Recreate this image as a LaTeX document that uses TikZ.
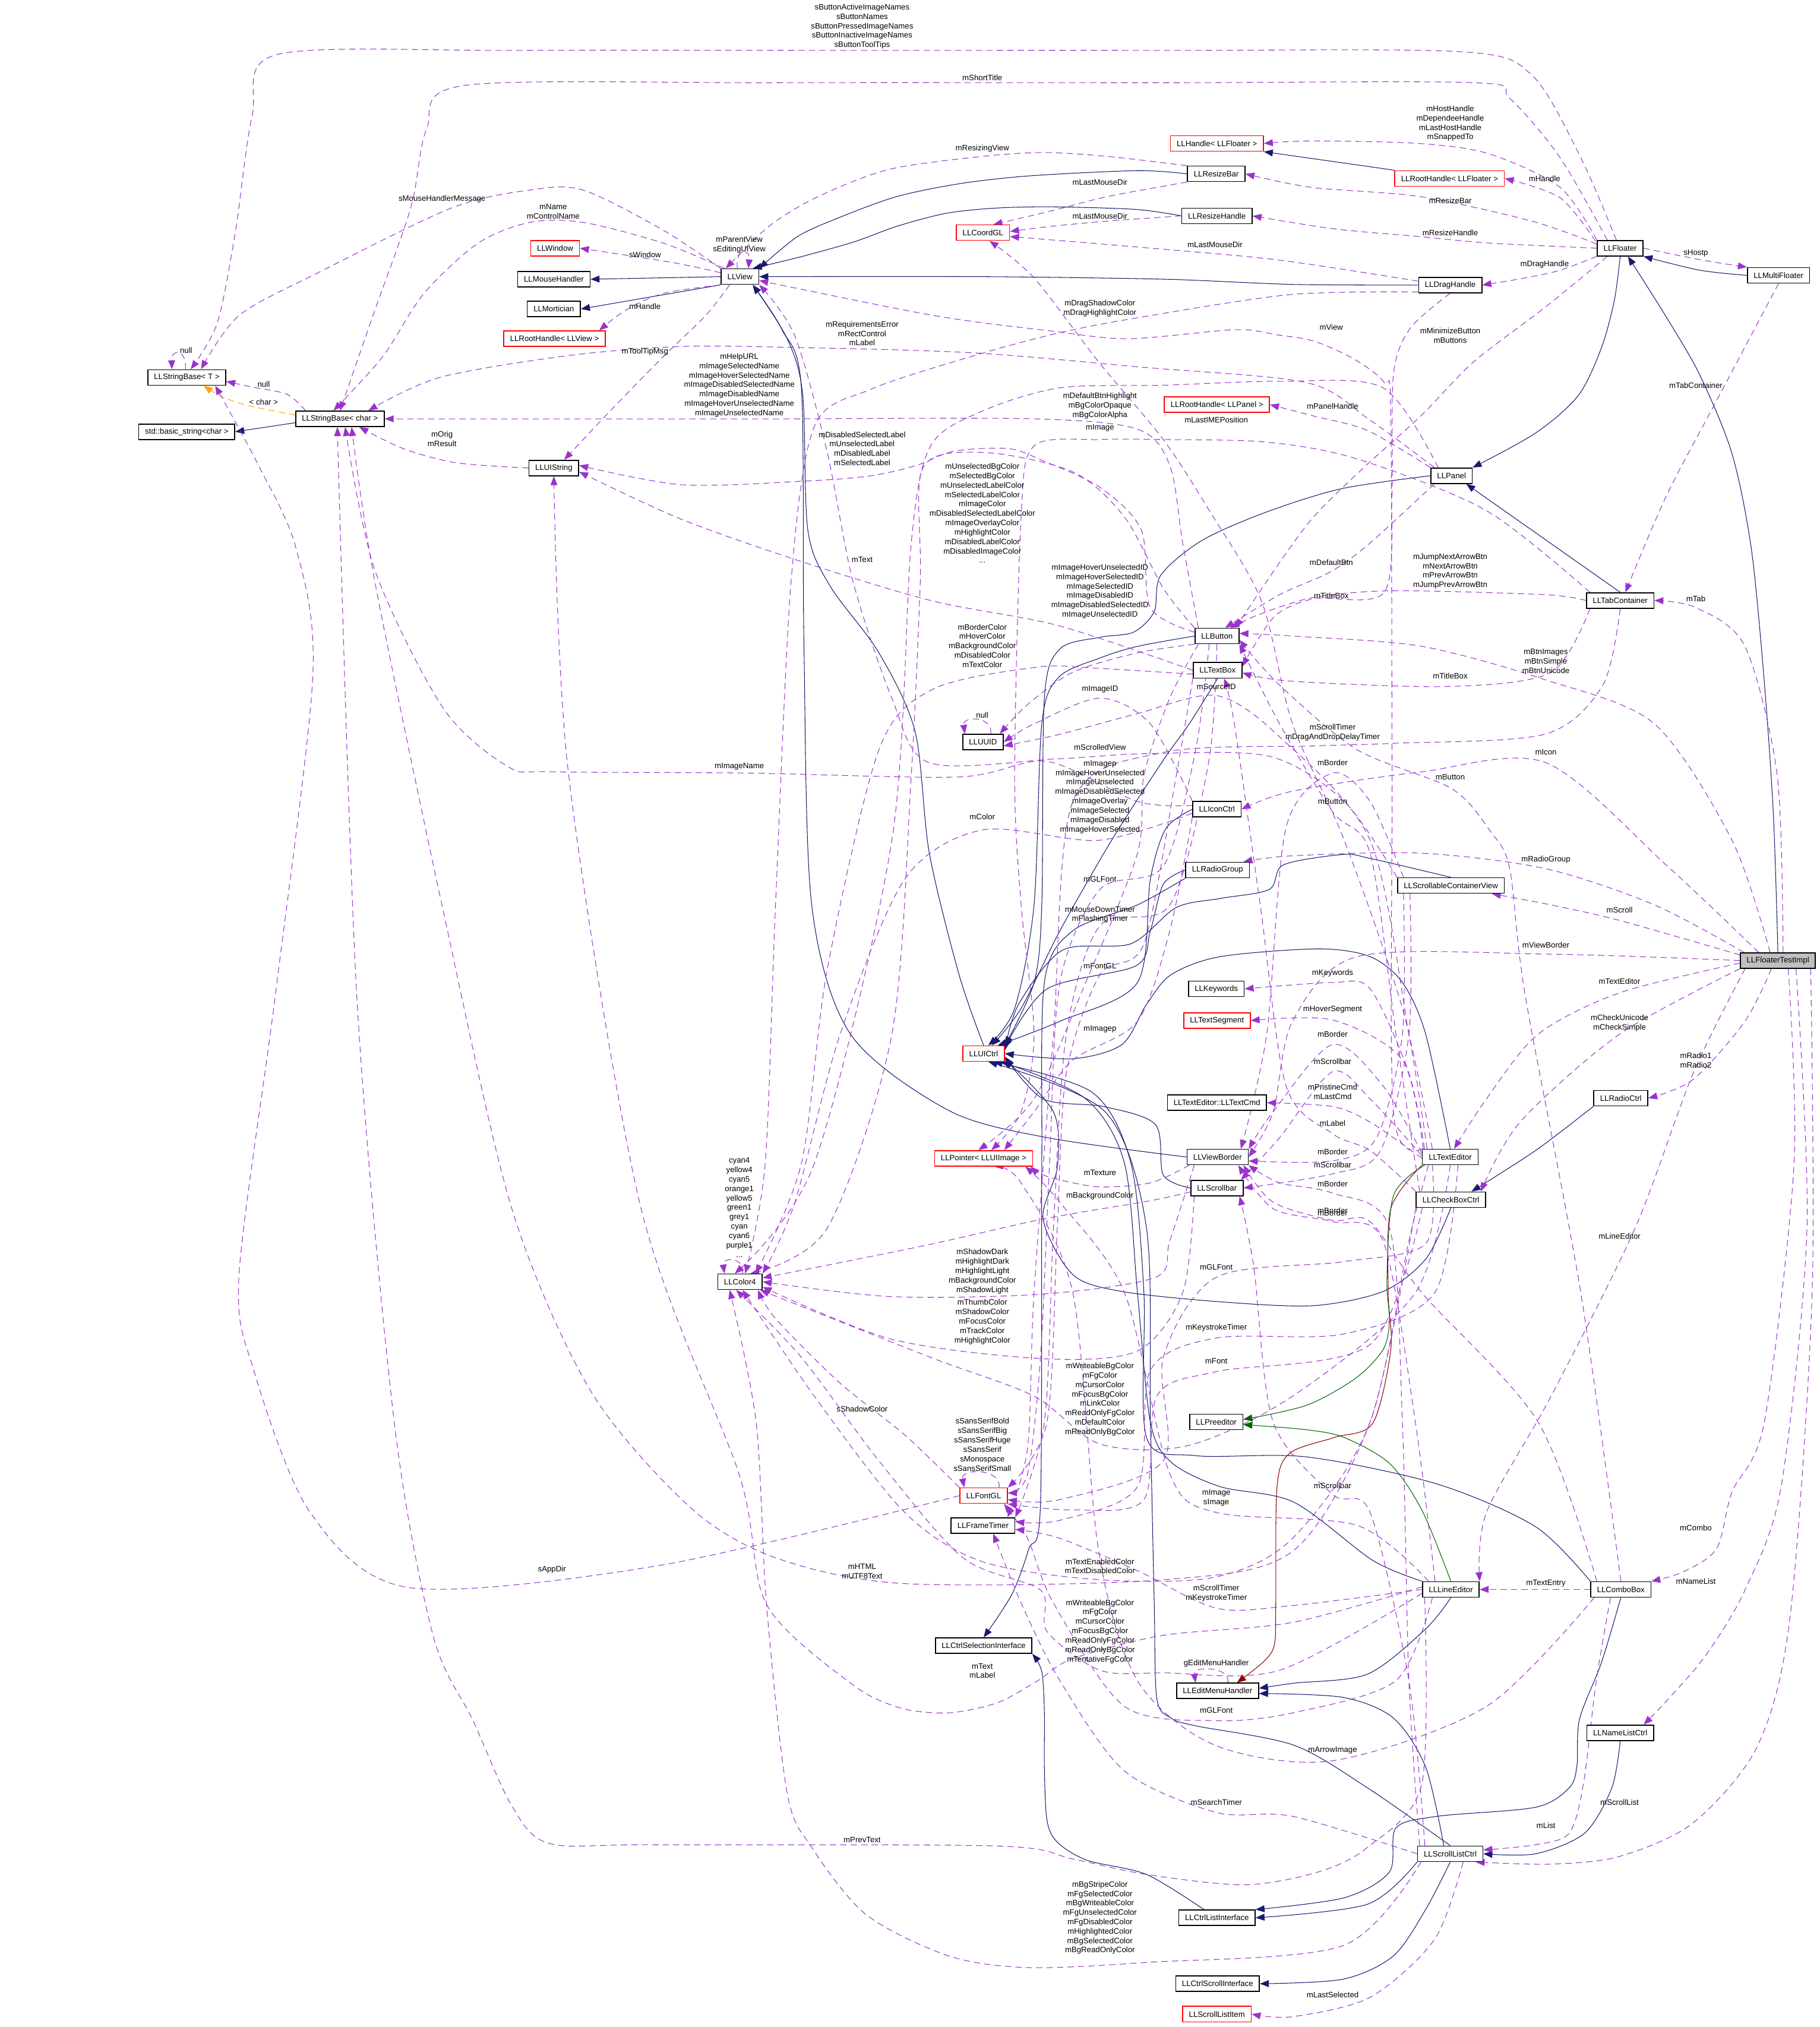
\documentclass[tikz,border=0pt]{standalone}
\usepackage{fontspec}
\setmainfont{Liberation Sans}
\usetikzlibrary{arrows.meta,calc}
\definecolor{navyblue}{HTML}{191970}
\definecolor{orchid}{HTML}{9A32CD}
\definecolor{tplorange}{HTML}{FFA500}
\definecolor{protgreen}{HTML}{006400}
\definecolor{privred}{HTML}{8B0000}
\definecolor{rootgray}{HTML}{BFBFBF}
\pgfdeclarelayer{fond}
\pgfsetlayers{fond,main}
\begin{document}
\begin{tikzpicture}[x=0.02175cm, y=-0.02175cm,
    font=\fontsize{3.76}{4.5}\selectfont,
    classe/.style={draw=black, fill=white, line width=0.45pt, inner xsep=3pt, inner ysep=0.5pt, minimum height=0.26cm},
    classerouge/.style={classe, draw=red},
    racine/.style={classe, fill=rootgray},
    etiq/.style={align=center, inner sep=0pt},
    herit/.style={color=navyblue, line width=0.3pt, -{Triangle[length=4.3pt,width=3.3pt]}},
    heritprot/.style={herit, color=protgreen},
    heritpriv/.style={herit, color=privred},
    usage/.style={color=orchid, line width=0.3pt, dash pattern=on 3pt off 2pt, -{Triangle[length=4.3pt,width=3.3pt]}},
    modele/.style={usage, color=tplorange}]
    \useasboundingbox (0,0) rectangle (1408,1568);
    % classes
    \node[classe] (view) at (572.5,214) {LLView};
    \node[classerouge] (window) at (429.5,192) {LLWindow};
    \node[classe] (mousehandler) at (428.5,216) {LLMouseHandler};
    \node[classe] (mortician) at (428.5,239) {LLMortician};
    \node[classerouge] (rootview) at (429,262) {LLRootHandle< LLView >};
    \node[classe] (strbaseT) at (144.5,292) {LLStringBase< T >};
    \node[classe] (strbasechar) at (263,324) {LLStringBase< char >};
    \node[classe] (basicstring) at (144.5,334) {std::basic\_string<char >};
    \node[classe] (uistring) at (428.5,362) {LLUIString};
    \node[classe] (resizebar) at (941,134.5) {LLResizeBar};
    \node[classerouge] (handlefloater) at (941.5,111) {LLHandle< LLFloater >};
    \node[classerouge] (rootfloater) at (1121.5,138) {LLRootHandle< LLFloater >};
    \node[classerouge] (coordgl) at (760.5,180) {LLCoordGL};
    \node[classe] (resizehandle) at (941.5,167) {LLResizeHandle};
    \node[classe] (floater) at (1253.5,192) {LLFloater};
    \node[classe] (multifloater) at (1376,213) {LLMultiFloater};
    \node[classe] (draghandle) at (1122,220.5) {LLDragHandle};
    \node[classerouge] (rootpanel) at (941.5,313) {LLRootHandle< LLPanel >};
    \node[classe] (panel) at (1123,368) {LLPanel};
    \node[classe] (tabcont) at (1253.5,464.5) {LLTabContainer};
    \node[classe] (button) at (941.5,492) {LLButton};
    \node[classe] (textbox) at (942,518.5) {LLTextBox};
    \node[classe] (uuid) at (760.5,574) {LLUUID};
    \node[classe] (iconctrl) at (941.5,626) {LLIconCtrl};
    \node[classe] (radiogroup) at (942,673) {LLRadioGroup};
    \node[classe] (scrollcont) at (1122.5,685) {LLScrollableContainerView};
    \node[racine] (floaterimpl) at (1375.5,743) {LLFloaterTestImpl};
    \node[classe] (keywords) at (941,765) {LLKeywords};
    \node[classerouge] (textseg) at (941.5,789.5) {LLTextSegment};
    \node[classerouge] (uictrl) at (761,815) {LLUICtrl};
    \node[classe] (textcmd) at (941.5,853) {LLTextEditor::LLTextCmd};
    \node[classe] (radioctrl) at (1254,849.5) {LLRadioCtrl};
    \node[classe] (texteditor) at (1122,895) {LLTextEditor};
    \node[classerouge] (uiimage) at (761,896) {LLPointer< LLUIImage >};
    \node[classe] (viewborder) at (942,895) {LLViewBorder};
    \node[classe] (scrollbar) at (941.5,919) {LLScrollbar};
    \node[classe] (checkbox) at (1122.5,928) {LLCheckBoxCtrl};
    \node[classe] (color) at (572.5,991.5) {LLColor4};
    \node[classe] (preeditor) at (941,1100) {LLPreeditor};
    \node[classerouge] (fontgl) at (761,1157) {LLFontGL};
    \node[classe] (frametimer) at (760.5,1180) {LLFrameTimer};
    \node[classe] (lineeditor) at (1122.5,1229.5) {LLLineEditor};
    \node[classe] (combobox) at (1254,1229.5) {LLComboBox};
    \node[classe] (selinterface) at (761,1273) {LLCtrlSelectionInterface};
    \node[classe] (editmenu) at (942,1308) {LLEditMenuHandler};
    \node[classe] (namelist) at (1253.5,1340.5) {LLNameListCtrl};
    \node[classe] (scrolllist) at (1122,1434) {LLScrollListCtrl};
    \node[classe] (listinterface) at (941.5,1483.5) {LLCtrlListInterface};
    \node[classe] (scrollinterface) at (942,1534.5) {LLCtrlScrollInterface};
    \node[classerouge] (scrollitem) at (941.5,1558) {LLScrollListItem};
    % etiquettes
    \node[etiq] (lSBtn) at (667,20.5) {sButtonActiveImageNames\\sButtonNames\\sButtonPressedImageNames\\sButtonInactiveImageNames\\sButtonToolTips};
    \node[etiq] (lShort) at (760,60) {mShortTitle};
    \node[etiq] (lHost) at (1122,95.5) {mHostHandle\\mDependeeHandle\\mLastHostHandle\\mSnappedTo};
    \node[etiq] (lResizing) at (760,115) {mResizingView};
    \node[etiq] (lHandleF) at (1195,138) {mHandle};
    \node[etiq] (lLMD1) at (851,141) {mLastMouseDir};
    \node[etiq] (lResizeBar) at (1122,155) {mResizeBar};
    \node[etiq] (lLMD2) at (851,167) {mLastMouseDir};
    \node[etiq] (lResizeH) at (1122,180) {mResizeHandle};
    \node[etiq] (lLMD3) at (940,189) {mLastMouseDir};
    \node[etiq] (lSHost) at (1312,196) {sHostp};
    \node[etiq] (lParent) at (572,189.5) {mParentView\\sEditingUIView};
    \node[etiq] (lSMouse) at (342,154) {sMouseHandlerMessage};
    \node[etiq] (lName) at (428,163.5) {mName\\mControlName};
    \node[etiq] (lSWindow) at (499,197) {sWindow};
    \node[etiq] (lDragH) at (1195,204.5) {mDragHandle};
    \node[etiq] (lHandleV) at (499,237) {mHandle};
    \node[etiq] (lDragCol) at (851,238.5) {mDragShadowColor\\mDragHighlightColor};
    \node[etiq] (lView) at (1030,253) {mView};
    \node[etiq] (lMinBtn) at (1122,259.5) {mMinimizeButton\\mButtons};
    \node[etiq] (lNull1) at (144,271) {null};
    \node[etiq] (lToolTip) at (499,272) {mToolTipMsg};
    \node[etiq] (lReqErr) at (667,258) {mRequirementsError\\mRectControl\\mLabel};
    \node[etiq] (lHelp) at (572,298) {mHelpURL\\mImageSelectedName\\mImageHoverSelectedName\\mImageDisabledSelectedName\\mImageDisabledName\\mImageHoverUnselectedName\\mImageUnselectedName};
    \node[etiq] (lNull2) at (204,297) {null};
    \node[etiq] (lChar) at (204,311) {< char >};
    \node[etiq] (lTabCont) at (1312,298) {mTabContainer};
    \node[etiq] (lDefBtnHl) at (851,314) {mDefaultBtnHighlight\\mBgColorOpaque\\mBgColorAlpha};
    \node[etiq] (lPanelH) at (1031,314) {mPanelHandle};
    \node[etiq] (lLastIME) at (941,325) {mLastIMEPosition};
    \node[etiq] (lImage) at (851,331) {mImage};
    \node[etiq] (lOrig) at (342,339.5) {mOrig\\mResult};
    \node[etiq] (lDisLbl) at (667,347) {mDisabledSelectedLabel\\mUnselectedLabel\\mDisabledLabel\\mSelectedLabel};
    \node[etiq] (lUnselBg) at (760,397) {mUnselectedBgColor\\mSelectedBgColor\\mUnselectedLabelColor\\mSelectedLabelColor\\mImageColor\\mDisabledSelectedLabelColor\\mImageOverlayColor\\mHighlightColor\\mDisabledLabelColor\\mDisabledImageColor\\...};
    \node[etiq] (lText) at (667,433) {mText};
    \node[etiq] (lJump) at (1122,442) {mJumpNextArrowBtn\\mNextArrowBtn\\mPrevArrowBtn\\mJumpPrevArrowBtn};
    \node[etiq] (lDefBtn) at (1030,435) {mDefaultBtn};
    \node[etiq] (lTitle1) at (1030,461) {mTitleBox};
    \node[etiq] (lTab) at (1312,463) {mTab};
    \node[etiq] (lImgIDs) at (851,457.5) {mImageHoverUnselectedID\\mImageHoverSelectedID\\mImageSelectedID\\mImageDisabledID\\mImageDisabledSelectedID\\mImageUnselectedID};
    \node[etiq] (lBorderCol) at (760,499.5) {mBorderColor\\mHoverColor\\mBackgroundColor\\mDisabledColor\\mTextColor};
    \node[etiq] (lBtnImg) at (1196,511.5) {mBtnImages\\mBtnSimple\\mBtnUnicode};
    \node[etiq] (lTitle2) at (1122,523) {mTitleBox};
    \node[etiq] (lSrcID) at (941,531) {mSourceID};
    \node[etiq] (lImgID) at (851,533) {mImageID};
    \node[etiq] (lNull3) at (760,553) {null};
    \node[etiq] (lScrollT) at (1031,566.5) {mScrollTimer\\mDragAndDropDelayTimer};
    \node[etiq] (lScrolled) at (851,578) {mScrolledView};
    \node[etiq] (lIcon) at (1196,582) {mIcon};
    \node[etiq] (lBorder1) at (1031,590) {mBorder};
    \node[etiq] (lImgName) at (572,593) {mImageName};
    \node[etiq] (lImagep) at (851,616.5) {mImagep\\mImageHoverUnselected\\mImageUnselected\\mImageDisabledSelected\\mImageOverlay\\mImageSelected\\mImageDisabled\\mImageHoverSelected};
    \node[etiq] (lButton2) at (1122,601) {mButton};
    \node[etiq] (lButton1) at (1031,620) {mButton};
    \node[etiq] (lColor) at (760,632) {mColor};
    \node[etiq] (lRadioGrp) at (1196,665) {mRadioGroup};
    \node[etiq] (lGLFont1) at (851,680) {mGLFont};
    \node[etiq] (lScroll) at (1253,704) {mScroll};
    \node[etiq] (lMouseDown) at (851,707.5) {mMouseDownTimer\\mFlashingTimer};
    \node[etiq] (lViewBorder) at (1196,731) {mViewBorder};
    \node[etiq] (lFontGL) at (851,747) {mFontGL};
    \node[etiq] (lKeywords) at (1031,753) {mKeywords};
    \node[etiq] (lTextEd) at (1253,759) {mTextEditor};
    \node[etiq] (lHover) at (1031,781) {mHoverSegment};
    \node[etiq] (lCheckU) at (1253,791.5) {mCheckUnicode\\mCheckSimple};
    \node[etiq] (lImagep2) at (851,796) {mImagep};
    \node[etiq] (lBorder2) at (1031,800) {mBorder};
    \node[etiq] (lRadio) at (1312,820) {mRadio1\\mRadio2};
    \node[etiq] (lScrollbar1) at (1031,821) {mScrollbar};
    \node[etiq] (lPristine) at (1031,844.5) {mPristineCmd\\mLastCmd};
    \node[etiq] (lLabel) at (1031,869) {mLabel};
    \node[etiq] (lBorder3) at (1031,891) {mBorder};
    \node[etiq] (lColors4) at (572,934) {cyan4\\yellow4\\cyan5\\orange1\\yellow5\\green1\\grey1\\cyan\\cyan6\\purple1\\...};
    \node[etiq] (lScrollbar2) at (1031,901) {mScrollbar};
    \node[etiq] (lTexture) at (851,907) {mTexture};
    \node[etiq] (lBorder4) at (1031,916) {mBorder};
    \node[etiq] (lBgCol) at (851,925) {mBackgroundColor};
    \node[etiq] (lBorder5) at (1031,936.5) {mBorder};
    \node[etiq] (lBorder6) at (1031,938.5) {mBorder};
    \node[etiq] (lLineEd) at (1253,956) {mLineEditor};
    \node[etiq] (lShadow) at (760,983.5) {mShadowDark\\mHighlightDark\\mHighlightLight\\mBackgroundColor\\mShadowLight};
    \node[etiq] (lGLFont2) at (941,980) {mGLFont};
    \node[etiq] (lThumb) at (760,1022.5) {mThumbColor\\mShadowColor\\mFocusColor\\mTrackColor\\mHighlightColor};
    \node[etiq] (lKeyst) at (941,1027) {mKeystrokeTimer};
    \node[etiq] (lFont) at (941,1053) {mFont};
    \node[etiq] (lWrite1) at (851,1082.5) {mWriteableBgColor\\mFgColor\\mCursorColor\\mFocusBgColor\\mLinkColor\\mReadOnlyFgColor\\mDefaultColor\\mReadOnlyBgColor};
    \node[etiq] (lSShadow) at (667,1090) {sShadowColor};
    \node[etiq] (lSans) at (760,1117.5) {sSansSerifBold\\sSansSerifBig\\sSansSerifHuge\\sSansSerif\\sMonospace\\sSansSerifSmall};
    \node[etiq] (lScrollbar3) at (1031,1149) {mScrollbar};
    \node[etiq] (lImageS) at (941,1158.5) {mImage\\sImage};
    \node[etiq] (lCombo) at (1312,1182) {mCombo};
    \node[etiq] (lTextEn) at (851,1211.5) {mTextEnabledColor\\mTextDisabledColor};
    \node[etiq] (lHTML) at (667,1215.5) {mHTML\\mUTF8Text};
    \node[etiq] (lAppDir) at (427,1214) {sAppDir};
    \node[etiq] (lNameList) at (1312,1223) {mNameList};
    \node[etiq] (lTextEntry) at (1196,1225) {mTextEntry};
    \node[etiq] (lScrollKey) at (941,1232.5) {mScrollTimer\\mKeystrokeTimer};
    \node[etiq] (lWrite2) at (851,1262) {mWriteableBgColor\\mFgColor\\mCursorColor\\mFocusBgColor\\mReadOnlyFgColor\\mReadOnlyBgColor\\mTentativeFgColor};
    \node[etiq] (lEditMenu) at (941,1287) {gEditMenuHandler};
    \node[etiq] (lTextLbl) at (760,1292.5) {mText\\mLabel};
    \node[etiq] (lGLFont3) at (941,1323) {mGLFont};
    \node[etiq] (lArrowImg) at (1031,1354) {mArrowImage};
    \node[etiq] (lSearch) at (941,1394) {mSearchTimer};
    \node[etiq] (lScrollList) at (1253,1394) {mScrollList};
    \node[etiq] (lList) at (1196,1412) {mList};
    \node[etiq] (lPrevText) at (667,1423) {mPrevText};
    \node[etiq] (lBgStripe) at (851,1483.5) {mBgStripeColor\\mFgSelectedColor\\mBgWriteableColor\\mFgUnselectedColor\\mFgDisabledColor\\mHighlightedColor\\mBgSelectedColor\\mBgReadOnlyColor};
    \node[etiq] (lLastSel) at (1031,1543) {mLastSelected};
    \begin{pgfonlayer}{fond}
    % heritage
    \draw[herit] (view.west) -- (mousehandler.east);
    \draw[herit] (view.south west) -- (mortician.east);
    \draw[herit] ($(strbasechar.west)+(0,3)$) -- (basicstring.east);
    \draw[herit] plot[smooth] coordinates {(resizebar.west) (880,132) (797,136) (743,142) (694,152) (650,168) (617,183) (view.north east)};
    \draw[herit] plot[smooth] coordinates {(resizehandle.west) (879,162) (814,160) (770,161) (732,165) (694,175) (661,187) (622,198) ($(view.north east)+(-5,0)$)};
    \draw[herit] plot[smooth] coordinates {(draghandle.west) (1000,220) (901,216) (760,214) (view.east)};
    \draw[herit] (rootfloater.north west) -- (handlefloater.south east);
    \draw[herit] plot[smooth] coordinates {(floater.south) (1249,232) (1239,269) (1221,306) (1188,335) (panel.north east)};
    \draw[herit] plot[smooth] coordinates {(multifloater.west) (1315,209) (floater.south east)};
    \draw[herit] plot[smooth] coordinates {(floaterimpl.north) (1372,630) (1365,528) (1355,425) (1340,351) (1315,290) (1289,245) ($(floater.south)+(6,0)$)};
    \draw[herit] (tabcont.north) -- ($(panel.south east)+(-5,0)$);
    \draw[herit] plot[smooth] coordinates {(panel.west) (1038,378) (980,396) (930,418) (898,445) (893,473) (877,489) (851,493) (820,502) (808,540) (806,700) (800,760) (uictrl.north east)};
    \draw[herit] plot[smooth] coordinates {(uictrl.north) (742,754) (719,660) (708,566) (680,505) (642,453) (625,410) (621,305) (609,262) ($(view.south east)+(-5,0)$)};
    \draw[herit] plot[smooth] coordinates {(viewborder.west) (810,880) (734,859) (658,800) (628,700) (622,500) (620,300) (605,255) ($(view.south east)+(-5,0)$)};
    \draw[herit] plot[smooth] coordinates {(button.west) (880,500) (851,509) (819,524) (806,560) (800,700) (785,780) (uictrl.60)};
    \draw[herit] plot[smooth] coordinates {(textbox.south) (920,560) (900,588) (860,650) (820,720) (790,780) (uictrl.45)};
    \draw[herit] plot[smooth] coordinates {(iconctrl.west) (902,641) (890,680) (880,760) (820,790) (uictrl.30)};
    \draw[herit] plot[smooth] coordinates {(radiogroup.west) (900,684) (890,720) (879,747) (810,765) (uictrl.15)};
    \draw[herit] plot[smooth] coordinates {(radiogroup.south west) (880,700) (830,720) (808,760) (806,900) (805,1163) (796,1198) (783,1233) (selinterface.north)};
    \draw[herit] plot[smooth] coordinates {(scrollcont.north) (1060,664) (1039,661) (993,669) (982,688) (944,695) (910,702) (875,730) (822,735) (788,777) (uictrl.8)};
    \draw[herit] plot[smooth] coordinates {(texteditor.north) (1103,800) (1085,760) (1060,740) (1020,734) (944,740) (906,754) (887,777) (868,808) (830,819) (uictrl.east)};
    \draw[herit] plot[smooth] coordinates {(scrollbar.west) (900,909) (894,870) (854,856) (807,850) (uictrl.-8)};
    \draw[herit] plot[smooth] coordinates {(checkbox.south) (1103,974) (1070,999) (1016,1010) (944,1007) (868,999) (830,986) (807,943) (818,903) (815,860) (uictrl.-15)};
    \draw[herit] plot[smooth] coordinates {(lineeditor.north west) (1062,1207) (1001,1162) (944,1150) (906,1131) (890,1100) (880,1000) (870,900) (840,850) (uictrl.-25)};
    \draw[herit] plot[smooth] coordinates {(combobox.north west) (1188,1181) (1112,1148) (1011,1127) (925,1126) (887,1112) (885,1000) (875,900) (845,845) (uictrl.-40)};
    \draw[herit] plot[smooth] coordinates {(scrolllist.north) (1058,1383) (1001,1350) (925,1335) (906,1329) (895,1314) (893,1241) (890,1100) (887,950) (855,860) (uictrl.-60)};
    \draw[herit] plot[smooth] coordinates {(radioctrl.south west) (1188,890) ($(checkbox.north)+(16,0)$)};
    \draw[heritpriv] plot[smooth] coordinates {(texteditor.south west) (1076,935) (1074,1000) (1076,1044) (1062,1101) (1032,1112) (998,1124) (988,1150) (987,1241) (986,1272) (978,1285) ($(editmenu.north)+(15,0)$)};
    \draw[heritprot] plot[smooth] coordinates {($(texteditor.south west)+(2,0)$) (1078,925) (1073,990) (1075,1022) (1070,1044) (1049,1066) (1011,1087) ($(preeditor.east)+(0,-2)$)};
    \draw[heritprot] plot[smooth] coordinates {(lineeditor.north) (1100,1168) (1075,1132) (1040,1112) (1011,1106) ($(preeditor.east)+(0,2)$)};
    \draw[herit] plot[smooth] coordinates {(lineeditor.south) (1103,1260) (1058,1295) (1001,1302) ($(editmenu.east)+(0,-2)$)};
    \draw[herit] plot[smooth] coordinates {($(scrolllist.north)+(-5,0)$) (1103,1367) (1078,1329) (1039,1313) ($(editmenu.east)+(0,2)$)};
    \draw[herit] plot[smooth] coordinates {(scrolllist.south west) (1058,1473) (listinterface.east)};
    \draw[herit] plot[smooth] coordinates {(combobox.south) (1239,1286) (1222,1330) (1220,1366) (1214,1383) (1188,1398) (1112,1405) (1080,1414) (1075,1448) (1040,1468) (listinterface.north east)};
    \draw[herit] plot[smooth] coordinates {(scrolllist.south) (1103,1477) (1078,1513) (1039,1531) (scrollinterface.east)};
    \draw[herit] plot[smooth] coordinates {(namelist.south) (1247,1383) (1226,1418) (1188,1434) (scrolllist.east)};
    \draw[herit] plot[smooth] coordinates {($(listinterface.north)+(-10,0)$) (887,1450) (841,1439) (818,1425) (810,1408) (808,1367) (808,1325) (806,1293) (selinterface.south east)};
    % modele
    \draw[modele] plot[smooth] coordinates {($(strbasechar.west)+(0,-3)$) (193,314) (172,307) ($(strbaseT.south)+(13,0)$)};
    % usage : chaines
    \draw[usage] ($(strbaseT.north)+(-1,0)$) .. controls ($(strbaseT.north)+(0,-16)$) and ($(strbaseT.north)+(-12,-16)$) .. ($(strbaseT.north)+(-11.5,0)$);
    \draw[usage] plot[smooth] coordinates {($(strbasechar.north west)+(8,0)$) (222,305) (193,299) ($(strbaseT.east)+(0,3)$)};
    \draw[usage] plot[smooth] coordinates {($(floater.north)+(-3,0)$) (1223,122) (1185,58) (1130,40) (900,39) (667,39) (400,39) (215,42) (195,90) (182,180) (168,250) ($(strbaseT.north)+(3,0)$)};
    \draw[usage] plot[smooth] coordinates {($(floater.north)+(-10,0)$) (1207,122) (1168,76) (1141,64) (900,64) (600,64) (360,66) (330,100) (318,160) (290,240) (strbasechar.north)};
    \draw[usage] plot[smooth] coordinates {(view.north west) (513,178) (451,147) (410,147) (349,161) (246,211) (185,244) ($(strbaseT.north)+(11,0)$)};
    \draw[usage] plot[smooth] coordinates {($(view.north west)+(3,0)$) (513,188) (451,172) (410,172) (370,188) (328,227) (296,276) ($(strbasechar.north)+(-5,0)$)};
    \draw[usage] plot[smooth] coordinates {(uistring.west) (353,358) (312,347) ($(strbasechar.south)+(15,0)$)};
    \draw[usage] plot[smooth] coordinates {($(panel.north west)+(3,0)$) (1060,325) (1011,296) (883,284) (754,273) (625,269) (528,268) (440,275) (340,292) ($(strbasechar.north)+(22,0)$)};
    \draw[usage] plot[smooth] coordinates {($(button.north west)+(3,0)$) (915,420) (905,360) (880,332) (800,324) (600,324) (400,324) (strbasechar.east)};
    \draw[usage] plot[smooth] coordinates {($(iconctrl.west)+(0,-3)$) (880,620) (810,589) (742,601) (578,598) (427,597) (393,593) (343,548) (290,441) ($(strbasechar.south)+(4,0)$)};
    \draw[usage] plot[smooth] coordinates {($(lineeditor.south west)+(2,0)$) (1100,1380) (1058,1429) (1020,1448) (963,1458) (887,1450) (830,1438) (772,1428) (506,1427) (425,1426) (396,1397) (366,1331) (335,1265) (305,1100) (276,770) ($(strbasechar.south)+(-2,0)$)};
    \draw[usage] plot[smooth] coordinates {($(texteditor.south west)+(5,0)$) (1090,960) (1060,1100) (1000,1200) (900,1222) (700,1225) (600,1205) (534,1166) (457,1076) (396,935) (343,705) (290,450) ($(strbasechar.south)+(9,0)$)};
    \draw[usage] plot[smooth] coordinates {(fontgl.west) (510,1211) (316,1228) (240,1170) (196,1059) (185,985) (213,770) (242,523) (229,424) (200,360) ($(strbaseT.south)+(22,0)$)};
    % usage : LLView
    \draw[usage] ($(view.north)+(-2,0)$) .. controls ($(view.north)+(-4,-16)$) and ($(view.north)+(8,-16)$) .. ($(view.north)+(6.5,0)$);
    \draw[usage] plot[smooth] coordinates {($(view.west)+(0,-3)$) (520,203) (window.east)};
    \draw[usage] plot[smooth] coordinates {(view.south west) (513,227) (484,240) ($(rootview.north east)+(-5,0)$)};
    \draw[usage] plot[smooth] coordinates {($(view.south)+(-8,0)$) (546,244) (513,276) (472,318) ($(uistring.north)+(8,0)$)};
    \draw[usage] plot[smooth] coordinates {(resizebar.north west) (857,121) (808,118) (760,121) (688,131) (633,152) (595,175) ($(view.north)+(-11,0)$)};
    \draw[usage] plot[smooth] coordinates {(texteditor.north west) (1078,860) (1077,600) (1076,320) (1071,296) (1048,278) (1017,264) (988,259) (956,255) (873,262) (813,256) (722,244) ($(view.east)+(0,3)$)};
    \draw[usage] plot[smooth] coordinates {(scrollcont.north west) (1040,620) (982,585) (887,583) (818,587) (719,590) (690,540) (660,450) (640,350) (615,260) (view.south east)};
    % usage : LLFloater
    \draw[usage] plot[smooth] coordinates {(floater.north west) (1207,145) (1152,119) (1098,111) (1015,109) (handlefloater.east)};
    \draw[usage] plot[smooth] coordinates {($(floater.north west)+(-1,1)$) (1207,153) (rootfloater.east)};
    \draw[usage] plot[smooth] coordinates {(floater.170) (1185,171) (1098,152) (1015,145) (resizebar.east)};
    \draw[usage] plot[smooth] coordinates {(floater.west) (1152,188) (1098,183) (1032,177) (resizehandle.east)};
    \draw[usage] plot[smooth] coordinates {(floater.south west) (1207,209) (1180,215) (draghandle.east)};
    \draw[usage] plot[smooth] coordinates {(floater.east) (1316,201) (multifloater.north west)};
    \draw[usage] plot[smooth] coordinates {($(floater.south)+(-10,0)$) (1195,238) (1140,280) (1099,322) (1058,359) (1017,399) (988,438) ($(button.north east)+(-3,0)$)};
    \draw[usage] plot[smooth] coordinates {(multifloater.south) (1328,310) (1289,384) ($(tabcont.north)+(4,0)$)};
    % usage : poignees
    \draw[usage] plot[smooth] coordinates {(resizebar.south west) (857,152) (814,163) ($(coordgl.north)+(8,0)$)};
    \draw[usage] plot[smooth] coordinates {(resizehandle.west) (857,171) (814,175) ($(coordgl.east)+(0,-1)$)};
    \draw[usage] plot[smooth] coordinates {($(draghandle.west)+(0,-3)$) (988,201) (879,191) ($(coordgl.east)+(0,3)$)};
    \draw[usage] plot[smooth] coordinates {($(draghandle.south west)+(0,-1)$) (997,228) (873,247) (813,259) (754,275) (674,301) (630,330) (612,450) (600,700) (592,900) ($(color.north)+(4,0)$)};
    \draw[usage] plot[smooth] coordinates {(draghandle.south) (1091,254) (1078,290) (1077,380) (1071,458) (1017,463) (988,475) (970,500) ($(textbox.east)+(0,-3)$)};
    % usage : LLPanel
    \draw[usage] plot[smooth] coordinates {(panel.north west) (1058,333) (1017,322) (rootpanel.east)};
    \draw[usage] plot[smooth] coordinates {($(panel.north west)+(6,0)$) (1070,300) (990,295) (900,298) (820,300) (760,318) (720,345) (705,420) (690,650) (630,900) ($(color.north)+(-4,0)$)};
    \draw[usage] plot[smooth] coordinates {($(panel.south west)+(3,0)$) (1060,420) (1030,442) (990,460) ($(button.north east)+(-11,0)$)};
    \draw[usage] plot[smooth] coordinates {($(texteditor.north west)+(8,0)$) (1085,780) (1040,650) (1000,560) (976,465) (935,394) (900,340) (850,280) (800,215) ($(coordgl.south)+(5,0)$)};
    % usage : LLTabContainer
    \draw[usage] plot[smooth] coordinates {(tabcont.west) (1195,460) (1078,457) (1017,462) (975,475) ($(button.north east)+(-7,0)$)};
    \draw[usage] plot[smooth] coordinates {($(tabcont.south west)+(3,0)$) (1200,520) (1122,531) (1000,527) ($(textbox.east)+(0,2)$)};
    \draw[usage] plot[smooth] coordinates {(tabcont.south) (1240,530) (1195,568) (1078,575) (1017,577) (900,582) (830,620) (815,800) (800,1000) (795,1120) ($(frametimer.north east)+(-6,0)$)};
    \draw[usage] plot[smooth] coordinates {($(tabcont.north west)+(3,0)$) (1150,395) (1050,355) (980,342) (900,340) (851,340) (800,345) (790,400) (785,600) (790,700) (800,800) (790,860) ($(uiimage.north)+(6,0)$)};
    % usage : LLButton
    \draw[usage] plot[smooth] coordinates {($(button.west)+(0,-3)$) (890,470) (883,410) (851,377) (806,356) (780,347) (738,349) (709,360) (674,368) (625,372) (528,375) ($(uistring.east)+(0,-2)$)};
    \draw[usage] plot[smooth] coordinates {(button.north west) (900,455) (870,400) (830,365) (761,350) (714,362) (712,450) (705,600) (690,800) (640,950) ($(color.north)+(8,0)$)};
    \draw[usage] plot[smooth] coordinates {(button.south west) (880,505) (830,520) (795,545) ($(uuid.north east)+(-3,0)$)};
    \draw[usage] plot[smooth] coordinates {($(button.south west)+(3,0)$) (905,540) (885,600) (880,660) (840,760) (800,850) ($(uiimage.north)+(-4,0)$)};
    \draw[usage] plot[smooth] coordinates {($(button.south)+(-6,0)$) (925,580) (900,670) (851,688) (820,760) (812,900) (805,1050) (795,1140) ($(fontgl.east)+(0,-2)$)};
    \draw[usage] plot[smooth] coordinates {(button.south) (935,590) (905,700) (851,716) (825,800) (815,950) (808,1100) (frametimer.north east)};
    % usage : LLTextBox, LLIconCtrl
    \draw[usage] plot[smooth] coordinates {(textbox.west) (819,484) (722,465) (625,436) (528,402) ($(uistring.east)+(0,3)$)};
    \draw[usage] plot[smooth] coordinates {($(textbox.west)+(0,3)$) (850,517) (803,516) (722,533) (680,580) (640,750) (620,900) ($(color.north)+(12,0)$)};
    \draw[usage] plot[smooth] coordinates {(textbox.south west) (910,600) (885,730) (851,754) (825,830) (818,950) (810,1100) (fontgl.north east)};
    \draw[usage] plot[smooth] coordinates {(iconctrl.north west) (890,560) (851,540) (800,560) (uuid.east)};
    \draw[usage] ($(uuid.north)+(6,0)$) .. controls ($(uuid.north)+(8,-14)$) and ($(uuid.north)+(-16,-14)$) .. ($(uuid.north)+(-14,0)$);
    \draw[usage] plot[smooth] coordinates {($(texteditor.north west)+(4,0)$) (1090,800) (1060,650) (990,570) (941,538) (880,552) (820,568) ($(uuid.east)+(0,3)$)};
    \draw[usage] plot[smooth] coordinates {($(iconctrl.west)+(0,3)$) (850,650) (760,642) (700,680) (650,800) (615,930) (color.north east)};
    \draw[usage] plot[smooth] coordinates {(iconctrl.south west) (905,720) (880,790) (830,820) (800,860) ($(uiimage.north)+(16,0)$)};
    % usage : LLFloaterTestImpl
    \draw[usage] plot[smooth] coordinates {($(floaterimpl.south)+(8,0)$) (1388,900) (1365,1100) (1340,1154) (1328,1198) (1302,1216) (combobox.north east)};
    \draw[usage] plot[smooth] coordinates {($(floaterimpl.south)+(14,0)$) (1398,950) (1378,1150) (1350,1230) (1320,1280) (1290,1315) ($(namelist.north east)+(-8,0)$)};
    \draw[usage] plot[smooth] coordinates {($(floaterimpl.south east)+(-4,0)$) (1402,1000) (1385,1250) (1360,1350) (1310,1410) (1253,1436) (1200,1442) ($(scrolllist.south east)+(-6,0)$)};
    \draw[usage] plot[smooth] coordinates {($(floaterimpl.south west)+(4,0)$) (1310,830) (1265,950) (1200,1080) (1150,1170) (lineeditor.north east)};
    \draw[usage] plot[smooth] coordinates {($(floaterimpl.south)+(-5,0)$) (1350,790) (1310,835) (radioctrl.east)};
    \draw[usage] plot[smooth] coordinates {(floaterimpl.south west) (1253,800) (1176,868) ($(checkbox.north east)+(-4,0)$)};
    \draw[usage] plot[smooth] coordinates {($(floaterimpl.west)+(0,2)$) (1253,768) (1190,800) (1150,850) ($(texteditor.north)+(3,0)$)};
    \draw[usage] plot[smooth] coordinates {(floaterimpl.west) (1196,738) (1050,740) (1000,790) (985,860) (viewborder.east)};
    \draw[usage] plot[smooth] coordinates {($(floaterimpl.north west)+(0,2)$) (1253,712) (1200,700) ($(scrollcont.south east)+(-10,0)$)};
    \draw[usage] plot[smooth] coordinates {($(floaterimpl.north west)+(3,0)$) (1280,700) (1196,672) (1100,660) (1000,662) ($(radiogroup.north east)+(-5,0)$)};
    \draw[usage] plot[smooth] coordinates {($(floaterimpl.north)+(-15,0)$) (1290,670) (1196,590) (1100,597) (1000,612) (iconctrl.east)};
    \draw[usage] plot[smooth] coordinates {($(floaterimpl.north)+(-6,0)$) (1340,650) (1280,560) (1196,526) (1100,500) (1000,492) ($(button.east)+(0,-2)$)};
    \draw[usage] plot[smooth] coordinates {($(floaterimpl.north)+(4,0)$) (1375,600) (1350,500) (1312,470) (tabcont.east)};
    % usage : conteneurs et bordures
    \draw[usage] plot[smooth] coordinates {($(scrollcont.north west)+(5,0)$) (1060,620) (1031,598) (995,640) (980,800) ($(viewborder.north east)+(-6,0)$)};
    \draw[usage] plot[smooth] coordinates {($(checkbox.north west)+(3,0)$) (1080,800) (1060,660) (1031,628) (990,560) (button.south east)};
    \draw[usage] plot[smooth] coordinates {(combobox.north) (1223,1000) (1180,770) (1168,672) (1153,643) (1123,610) (1050,580) (990,530) ($(button.east)+(0,3)$)};
    \draw[usage] plot[smooth] coordinates {($(texteditor.north west)+(2,0)$) (1090,830) (1060,765) (1031,760) (keywords.east)};
    \draw[usage] plot[smooth] coordinates {($(texteditor.north west)+(1,0)$) (1085,820) (1031,789) (textseg.east)};
    \draw[usage] plot[smooth] coordinates {($(texteditor.west)+(0,-3)$) (1070,840) (1031,808) (985,860) (viewborder.north east)};
    \draw[usage] plot[smooth] coordinates {($(texteditor.west)+(0,-1)$) (1060,850) (1031,829) (990,880) ($(scrollbar.north east)+(-2,0)$)};
    \draw[usage] plot[smooth] coordinates {($(texteditor.west)+(0,1)$) (1060,868) (1031,856) (textcmd.east)};
    \draw[usage] plot[smooth] coordinates {(checkbox.north west) (1060,890) (1031,877) (995,840) (975,700) (955,560) ($(textbox.south)+(5,0)$)};
    \draw[usage] plot[smooth] coordinates {($(scrollcont.south west)+(5,0)$) (1085,800) (1065,880) (1031,898) ($(viewborder.east)+(0,3)$)};
    \draw[usage] plot[smooth] coordinates {($(scrollcont.south west)+(10,0)$) (1090,800) (1068,890) (1031,908) (scrollbar.east)};
    \draw[usage] plot[smooth] coordinates {($(scrolllist.north west)+(2,0)$) (1090,1300) (1085,1100) (1075,950) (1031,923) (990,915) (viewborder.south east)};
    \draw[usage] plot[smooth] coordinates {($(combobox.north west)+(5,0)$) (1190,1100) (1100,1000) (1060,945) (1031,944) (985,930) ($(viewborder.south east)+(-4,0)$)};
    \draw[usage] plot[smooth] coordinates {($(lineeditor.north west)+(10,0)$) (1095,1100) (1070,960) (1031,945) (985,935) ($(viewborder.south east)+(-8,0)$)};
    \draw[usage] plot[smooth] coordinates {($(scrolllist.north west)+(6,0)$) (1090,1300) (1060,1170) (1031,1156) (985,1100) (970,980) ($(scrollbar.south east)+(-3,0)$)};
    % usage : couleurs
    \draw[usage] ($(color.north)+(2,0)$) .. controls ($(color.north)+(4,-13)$) and ($(color.north)+(-14,-13)$) .. ($(color.north)+(-12,0)$);
    \draw[usage] plot[smooth] coordinates {($(viewborder.south west)+(2,0)$) (890,915) (849,918) (810,910) ($(uiimage.south east)+(-2,0)$)};
    \draw[usage] plot[smooth] coordinates {($(scrollbar.west)+(0,3)$) (889,929) (807,943) (713,964) ($(color.east)+(0,-3)$)};
    \draw[usage] plot[smooth] coordinates {($(viewborder.south west)+(6,0)$) (905,960) (894,988) (807,1001) (690,1003) (color.east)};
    \draw[usage] plot[smooth] coordinates {($(scrollbar.south west)+(3,0)$) (915,1000) (880,1045) (807,1051) (690,1036) ($(color.east)+(0,4)$)};
    \draw[usage] plot[smooth] coordinates {(fontgl.north west) (700,1110) (650,1070) (600,1020) ($(color.south)+(14,0)$)};
    \draw[usage] ($(fontgl.north)+(12,0)$) .. controls ($(fontgl.north)+(14,-15)$) and ($(fontgl.north)+(-18,-15)$) .. ($(fontgl.north)+(-15,0)$);
    \draw[usage] plot[smooth] coordinates {(texteditor.south) (1095,1000) (1000,1080) (920,1118) (851,1117) (800,1080) (720,1050) ($(color.south east)+(-2,0)$)};
    \draw[usage] plot[smooth] coordinates {(checkbox.south west) (1060,1100) (1000,1190) (940,1220) (851,1222) (760,1208) (700,1170) (630,1080) ($(color.south)+(2,0)$)};
    \draw[usage] plot[smooth] coordinates {($(lineeditor.west)+(0,3)$) (990,1292) (900,1294) (851,1292) (810,1262) (805,1230) (745,1205) (680,1130) (620,1050) ($(color.south)+(-3,0)$)};
    \draw[usage] plot[smooth] coordinates {($(scrolllist.south west)+(3,0)$) (1039,1505) (887,1518) (795,1522) (734,1513) (670,1481) (628,1429) (609,1387) (593,1241) (585,1100) ($(color.south)+(-8,0)$)};
    % usage : polices, minuteries, images
    \draw[usage] plot[smooth] coordinates {($(texteditor.south west)+(8,0)$) (1103,962) (1039,976) (941,988) (900,1050) (900,1130) (820,1160) ($(fontgl.east)+(0,3)$)};
    \draw[usage] plot[smooth] coordinates {($(texteditor.south)+(6,0)$) (1110,1000) (1039,1032) (941,1035) (890,1060) (880,1150) (820,1176) ($(frametimer.east)+(0,-3)$)};
    \draw[usage] plot[smooth] coordinates {($(checkbox.south west)+(5,0)$) (1060,1040) (941,1061) (895,1080) (885,1160) (830,1168) (fontgl.south east)};
    \draw[usage] plot[smooth] coordinates {($(lineeditor.north west)+(5,0)$) (1050,1180) (941,1170) (905,1140) (870,1000) (820,930) ($(uiimage.south east)+(-6,0)$)};
    \draw[usage] plot[smooth] coordinates {(lineeditor.west) (1000,1242) (941,1244) (880,1215) (820,1190) ($(frametimer.east)+(0,3)$)};
    \draw[usage] plot[smooth] coordinates {($(lineeditor.west)+(0,-2)$) (1000,1255) (900,1265) (830,1283) (803,1300) (772,1317) (734,1325) (696,1321) (658,1302) (593,1241) (572,1141) (496,935) (440,600) (uistring.south)};
    \draw[usage] plot[smooth] coordinates {($(lineeditor.south west)+(8,0)$) (1080,1300) (1000,1325) (941,1331) (870,1320) (815,1240) (795,1190) ($(fontgl.south east)+(-3,0)$)};
    \draw[usage] plot[smooth] coordinates {(scrolllist.west) (1000,1405) (941,1402) (870,1370) (820,1300) (790,1240) ($(frametimer.south)+(8,0)$)};
    \draw[usage] plot[smooth] coordinates {($(combobox.south west)+(3,0)$) (1150,1320) (1031,1362) (940,1350) (880,1300) (850,1200) (830,1000) (790,915) ($(uiimage.south)+(8,0)$)};
    \draw[usage] ($(editmenu.north)+(8,0)$) .. controls ($(editmenu.north)+(10,-13)$) and ($(editmenu.north)+(-19,-13)$) .. ($(editmenu.north)+(-17,0)$);
    \draw[usage] plot[smooth] coordinates {($(scrolllist.south)+(10,0)$) (1110,1500) (1060,1545) (1000,1560) (scrollitem.east)};
    \draw[usage] (combobox.west) -- (lineeditor.east);
    \draw[usage] plot[smooth] coordinates {($(combobox.south)+(-8,0)$) (1235,1300) (1225,1380) (1214,1418) (1188,1427) ($(scrolllist.east)+(0,-3)$)};
    \end{pgfonlayer}
\end{tikzpicture}
\end{document}
